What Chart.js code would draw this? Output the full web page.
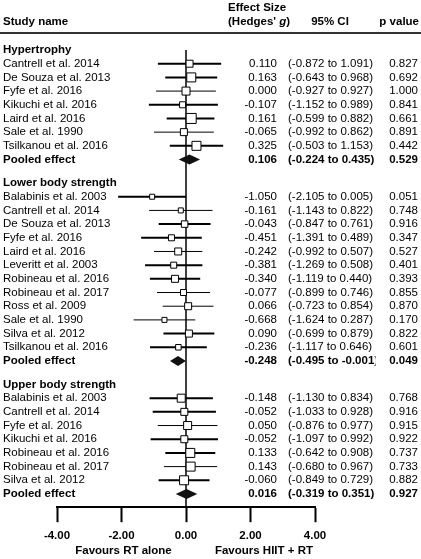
<!DOCTYPE html>
<html>
<head>
<meta charset="utf-8">
<title>Forest plot - HIIT + RT vs RT alone</title>
<script src="https://cdn.jsdelivr.net/npm/chart.js@4.4.1/dist/chart.umd.min.js"></script>
<style>
  html, body { margin: 0; padding: 0; background: #fff; }
  #wrap { width: 421px; height: 559px; position: relative; }
</style>
</head>
<body>
<div id="wrap"><canvas id="forestChart"></canvas></div>
<script>
// ---- data ----
const groupNames = ['Hypertrophy', 'Lower body strength', 'Upper body strength'];

const hypStudies = ['Cantrell et al. 2014', 'De Souza et al. 2013', 'Fyfe et al. 2016', 'Kikuchi et al. 2016',
                    'Laird et al. 2016', 'Sale et al. 1990', 'Tsilkanou et al. 2016'];
const hypG    = [0.110, 0.163, 0.000, -0.107, 0.161, -0.065, 0.325];
const hypLow  = [-0.872, -0.643, -0.927, -1.152, -0.599, -0.992, -0.503];
const hypHigh = [1.091, 0.968, 0.927, 0.989, 0.882, 0.862, 1.153];
const hypP    = [0.827, 0.692, 1.000, 0.841, 0.661, 0.891, 0.442];

const lowStudies = ['Balabinis et al. 2003', 'Cantrell et al. 2014', 'De Souza et al. 2013', 'Fyfe et al. 2016',
                    'Laird et al. 2016', 'Leveritt et al. 2003', 'Robineau et al. 2016', 'Robineau et al. 2017',
                    'Ross et al. 2009', 'Sale et al. 1990', 'Silva et al. 2012', 'Tsilkanou et al. 2016'];
const lowG    = [-1.050, -0.161, -0.043, -0.451, -0.242, -0.381, -0.340, -0.077, 0.066, -0.668, 0.090, -0.236];
const lowLow  = [-2.105, -1.143, -0.847, -1.391, -0.992, -1.269, -1.119, -0.899, -0.723, -1.624, -0.699, -1.117];
const lowHigh = [0.005, 0.822, 0.761, 0.489, 0.507, 0.508, 0.440, 0.746, 0.854, 0.287, 0.879, 0.646];
const lowP    = [0.051, 0.748, 0.916, 0.347, 0.527, 0.401, 0.393, 0.855, 0.870, 0.170, 0.822, 0.601];

const upStudies = ['Balabinis et al. 2003', 'Cantrell et al. 2014', 'Fyfe et al. 2016', 'Kikuchi et al. 2016',
                   'Robineau et al. 2016', 'Robineau et al. 2017', 'Silva et al. 2012'];
const upG    = [-0.148, -0.052, 0.050, -0.052, 0.133, 0.143, -0.060];
const upLow  = [-1.130, -1.033, -0.876, -1.097, -0.642, -0.680, -0.849];
const upHigh = [0.834, 0.928, 0.977, 0.992, 0.908, 0.967, 0.729];
const upP    = [0.768, 0.916, 0.915, 0.922, 0.737, 0.733, 0.882];

const pooledG    = [0.106, -0.248, 0.016];
const pooledLow  = [-0.224, -0.495, -0.319];
const pooledHigh = [0.435, -0.001, 0.351];
const pooledP    = [0.529, 0.049, 0.927];

const xTicks = [-4, -2, 0, 2, 4];
const axisNotes = ['Favours RT alone', 'Favours HIIT + RT'];

// ---- marker styling (box side in px follows study weight; whisker stroke) ----
const hypBox = [7, 9, 8, 6, 10, 7, 9];
const lowBox = [5, 5, 6.5, 6, 7, 6, 7, 6, 7, 5, 7, 5.5];
const upBox  = [8, 7, 8, 7, 9, 9, 9];
const hypHeavy = [1, 1, 0, 1, 1, 0, 1];
const lowHeavy = [1, 0, 1, 1, 0, 1, 1, 0, 0, 0, 1, 1];
const upHeavy  = [1, 1, 0, 1, 1, 0, 1];

const FONT = "'Liberation Sans', Arial, Helvetica, sans-serif";
const FS = 11.5;
const ROW_PX = 13.65;   // pixel height of one row
const GROUP_GAP = 1.72; // rows between a pooled line and the next heading

// build row list
const groups = [
  { studies: hypStudies, g: hypG, lo: hypLow, hi: hypHigh, p: hypP, box: hypBox, heavy: hypHeavy },
  { studies: lowStudies, g: lowG, lo: lowLow, hi: lowHigh, p: lowP, box: lowBox, heavy: lowHeavy },
  { studies: upStudies,  g: upG,  lo: upLow,  hi: upHigh,  p: upP,  box: upBox,  heavy: upHeavy }
];
const rows = [];
let yy = 0;
groups.forEach((grp, gi) => {
  rows.push({ kind: 'head', y: yy, label: groupNames[gi] });
  grp.studies.forEach((name, i) => {
    yy += 1;
    rows.push({ kind: 'study', y: yy, label: name, g: grp.g[i], lo: grp.lo[i], hi: grp.hi[i],
                p: grp.p[i], box: grp.box[i], heavy: grp.heavy[i] });
  });
  yy += 1;
  rows.push({ kind: 'pooled', y: yy, label: 'Pooled effect', g: pooledG[gi], lo: pooledLow[gi],
              hi: pooledHigh[gi], p: pooledP[gi] });
  yy += GROUP_GAP;
});
const studyRows = rows.filter(r => r.kind === 'study');

function whiskerData(list) {
  const out = [];
  list.forEach(r => { out.push({ x: r.lo, y: r.y }, { x: r.hi, y: r.y }, { x: null, y: null }); });
  return out;
}

// chart area spans y pixels 40..506; row 0 sits at pixel 50
const Y_MIN = -10 / ROW_PX;
const Y_MAX = (506 - 50) / ROW_PX;

const forestText = {
  id: 'forestText',
  beforeDatasetsDraw(chart) {
    const { ctx, chartArea, scales: { x, y } } = chart;
    ctx.save();
    ctx.strokeStyle = '#000';
    ctx.lineWidth = 1.5;
    ctx.beginPath();
    ctx.moveTo(x.getPixelForValue(0), y.getPixelForValue(0));
    ctx.lineTo(x.getPixelForValue(0), chartArea.bottom);
    ctx.stroke();
    ctx.restore();
  },
  afterDatasetsDraw(chart) {
    const { ctx, scales: { x, y } } = chart;
    ctx.save();
    ctx.fillStyle = '#000';
    ctx.textBaseline = 'middle';

    // column headings
    ctx.font = `bold ${FS}px ${FONT}`;
    ctx.textAlign = 'left';
    ctx.fillText('Study name', 3, 22);
    ctx.fillText('Effect Size', 228, 8);
    let hx = 228;
    ctx.fillText("(Hedges' ", hx, 22);
    hx += ctx.measureText("(Hedges' ").width;
    ctx.font = `italic bold ${FS}px ${FONT}`;
    ctx.fillText('g', hx, 22);
    hx += ctx.measureText('g').width;
    ctx.font = `bold ${FS}px ${FONT}`;
    ctx.fillText(')', hx, 22);
    ctx.textAlign = 'center';
    ctx.fillText('95% CI', 330, 22);
    ctx.textAlign = 'right';
    ctx.fillText('p value', 419, 22);

    ctx.strokeStyle = '#333';
    ctx.lineWidth = 2;
    ctx.beginPath();
    ctx.moveTo(0, 33);
    ctx.lineTo(421, 33);
    ctx.stroke();

    rows.forEach(r => {
      const py = y.getPixelForValue(r.y);
      const bold = r.kind !== 'study';
      ctx.font = `${bold ? 'bold ' : ''}${FS}px ${FONT}`;
      ctx.textAlign = 'left';
      ctx.fillText(r.label, 3, py);
      if (r.kind === 'head') return;
      ctx.textAlign = 'right';
      ctx.fillText(r.g.toFixed(3), 277, py);
      ctx.fillText(r.p.toFixed(3), 418, py);
      ctx.textAlign = 'left';
      // the CI column is clipped at its right edge, as in the source table
      ctx.save();
      ctx.beginPath();
      ctx.rect(280, py - 10, 95.5, 20);
      ctx.clip();
      ctx.fillText(`(${r.lo.toFixed(3)} to ${r.hi.toFixed(3)})`, 288, py);
      ctx.restore();

      if (r.kind === 'pooled') {
        const h = 5;
        ctx.fillStyle = '#111';
        ctx.beginPath();
        ctx.moveTo(x.getPixelForValue(r.lo), py);
        ctx.lineTo(x.getPixelForValue(r.g), py - h);
        ctx.lineTo(x.getPixelForValue(r.hi), py);
        ctx.lineTo(x.getPixelForValue(r.g), py + h);
        ctx.closePath();
        ctx.fill();
        ctx.fillStyle = '#000';
      }
    });

    // axis captions
    ctx.font = `bold ${FS}px ${FONT}`;
    ctx.textAlign = 'center';
    ctx.fillText(axisNotes[0], x.getPixelForValue(-2) + 2, 551);
    ctx.textAlign = 'right';
    ctx.fillText(axisNotes[1], x.getPixelForValue(4) - 2, 551);
    ctx.restore();
  }
};

new Chart(document.getElementById('forestChart'), {
  type: 'scatter',
  data: {
    datasets: [
      {
        label: 'Studies',
        data: studyRows.map(r => ({ x: r.g, y: r.y })),
        pointStyle: 'rect',
        pointRadius: studyRows.map(r => r.box * Math.SQRT1_2),
        pointBackgroundColor: '#fff',
        pointBorderColor: '#000',
        pointBorderWidth: 1,
        order: 0
      },
      {
        label: 'CI heavy',
        data: whiskerData(studyRows.filter(r => r.heavy)),
        showLine: true,
        spanGaps: false,
        borderColor: '#000',
        borderWidth: 2,
        pointRadius: 0,
        order: 1
      },
      {
        label: 'CI light',
        data: whiskerData(studyRows.filter(r => !r.heavy)),
        showLine: true,
        spanGaps: false,
        borderColor: '#000',
        borderWidth: 1,
        pointRadius: 0,
        order: 2
      }
    ]
  },
  options: {
    responsive: true,
    maintainAspectRatio: false,
    animation: false,
    events: [],
    layout: { padding: { left: 57, right: 106, top: 40, bottom: 9 } },
    plugins: { legend: { display: false }, tooltip: { enabled: false } },
    scales: {
      x: {
        type: 'linear',
        min: -4,
        max: 4,
        afterBuildTicks: scale => { scale.ticks = xTicks.map(v => ({ value: v })); },
        ticks: {
          color: '#000',
          padding: 7,
          maxRotation: 0,
          font: { family: FONT, size: FS, weight: 'bold' },
          callback: v => Number(v).toFixed(2)
        },
        grid: { drawOnChartArea: false, drawTicks: true, tickLength: 15, tickWidth: 2, tickColor: '#000' },
        border: { display: true, width: 2, color: '#000' }
      },
      y: {
        type: 'linear',
        reverse: true,
        min: Y_MIN,
        max: Y_MAX,
        display: false
      }
    }
  },
  plugins: [forestText]
});
</script>
</body>
</html>
